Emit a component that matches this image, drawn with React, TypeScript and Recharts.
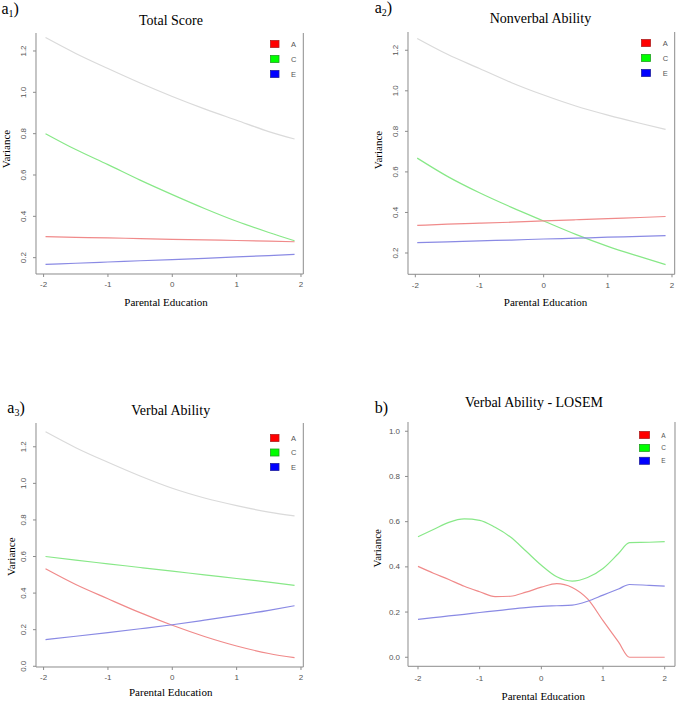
import React from 'react';
import { LineChart, Line, XAxis, YAxis, ReferenceLine, Legend } from 'recharts';

// ---------- data ----------
const xTicks = [-2, -1, 0, 1, 2];
const yTicksA12 = [0.2, 0.4, 0.6, 0.8, 1.0, 1.2];
const yTicksA3 = [0.0, 0.2, 0.4, 0.6, 0.8, 1.0, 1.2];
const yTicksB = [0.0, 0.2, 0.4, 0.6, 0.8, 1.0];

const legendLabels = ['A', 'C', 'E'];
const legendFills = ['#ff0000', '#00ff00', '#0000ff'];
const legendEdges = ['#b02020', '#20a020', '#2020a0'];

// a1) Total Score
const xA = [-1.97, -1.5, -1, -0.5, 0, 0.5, 1, 1.5, 1.9];
const a1Total = [1.265, 1.188, 1.115, 1.045, 0.98, 0.92, 0.865, 0.81, 0.774];
const a1A = [0.302, 0.298, 0.296, 0.292, 0.289, 0.286, 0.283, 0.28, 0.277];
const a1C = [0.8, 0.723, 0.65, 0.575, 0.505, 0.438, 0.376, 0.322, 0.282];
const a1E = [0.168, 0.173, 0.179, 0.185, 0.191, 0.197, 0.204, 0.21, 0.216];

// a2) Nonverbal Ability
const a2Total = [1.258, 1.18, 1.11, 1.04, 0.979, 0.925, 0.88, 0.84, 0.81];
const a2A = [0.336, 0.342, 0.347, 0.352, 0.358, 0.364, 0.37, 0.375, 0.38];
const a2C = [0.668, 0.578, 0.497, 0.425, 0.358, 0.292, 0.233, 0.182, 0.143];
const a2E = [0.251, 0.255, 0.26, 0.264, 0.269, 0.273, 0.278, 0.282, 0.286];

// a3) Verbal Ability
const a3Total = [1.282, 1.195, 1.115, 1.04, 0.973, 0.92, 0.878, 0.843, 0.822];
const a3A = [0.533, 0.447, 0.369, 0.293, 0.224, 0.163, 0.111, 0.07, 0.047];
const a3C = [0.6, 0.58, 0.56, 0.54, 0.52, 0.5, 0.48, 0.46, 0.442];
const a3E = [0.146, 0.164, 0.184, 0.205, 0.227, 0.252, 0.278, 0.306, 0.331];

// b) Verbal Ability - LOSEM
const xB = [-2, -1.75, -1.5, -1.25, -1, -0.75, -0.5, -0.25, 0, 0.25, 0.5, 0.75, 1, 1.25, 1.43, 1.75, 2];
const bA = [0.402, 0.372, 0.344, 0.314, 0.29, 0.268, 0.27, 0.288, 0.31, 0.326, 0.309, 0.258, 0.162, 0.068, 0, 0, 0];
const bC = [0.533, 0.565, 0.597, 0.612, 0.606, 0.575, 0.532, 0.47, 0.407, 0.356, 0.337, 0.353, 0.393, 0.459, 0.507, 0.509, 0.512];
const bE = [0.168, 0.175, 0.183, 0.19, 0.198, 0.205, 0.213, 0.22, 0.225, 0.228, 0.231, 0.248, 0.275, 0.302, 0.322, 0.318, 0.315];

// ---------- styling ----------
const AXIS = '#8c8c8c';
const TICK_TXT = '#555555';
const SANS = 'Liberation Sans, Arial, sans-serif';
const SERIF = 'Liberation Serif, Times New Roman, serif';
const COL = { T: '#dadada', A: '#f08a8a', C: '#88e888', E: '#8a8ae4' };

type Box = { l: number; t: number; r: number; b: number };
type LegendPos = { x: number; y: number; gap: number; w: number; h: number; tx: number; fs: number };

interface PanelProps {
  box: Box;
  xDomain: [number, number];
  yDomain: [number, number];
  yTicks: number[];
  xs: number[];
  total?: number[];
  a: number[];
  c: number[];
  e: number[];
  rotateY: boolean;
  legend: LegendPos;
  xLabelDy: number;
}

const YW = 45;
const PAD = 5;
const XH = 25;

function Panel(p: PanelProps) {
  const left = p.box.l - YW;
  const top = p.box.t - PAD;
  const width = p.box.r - left + PAD;
  const height = p.box.b - top + XH;
  const data = p.xs.map((x, i) => ({
    x,
    T: p.total ? p.total[i] : undefined,
    A: p.a[i],
    C: p.c[i],
    E: p.e[i],
  }));

  const xTick = (props: any) => {
    const { x, y, payload } = props;
    return (
      <text x={x} y={y + p.xLabelDy} textAnchor="middle" fontSize={8} fill={TICK_TXT} fontFamily={SANS}>
        {String(payload.value)}
      </text>
    );
  };
  const yTick = (props: any) => {
    const { x, y, payload } = props;
    const label = Number(payload.value).toFixed(1);
    if (p.rotateY) {
      const cx = x - 7.4;
      return (
        <text
          x={cx}
          y={y}
          transform={`rotate(-90 ${cx} ${y})`}
          textAnchor="middle"
          dominantBaseline="central"
          fontSize={8}
          fill={TICK_TXT}
          fontFamily={SANS}
        >
          {label}
        </text>
      );
    }
    return (
      <text x={x - 3} y={y} textAnchor="end" dominantBaseline="central" fontSize={8} fill={TICK_TXT} fontFamily={SANS}>
        {label}
      </text>
    );
  };

  const lg = p.legend;
  const legendContent = () => (
    <svg width={40} height={lg.gap * 3 + 4} style={{ display: 'block', overflow: 'visible' }}>
      {legendLabels.map((lab, i) => (
        <g key={lab}>
          <rect
            x={0.5}
            y={0.5 + i * lg.gap}
            width={lg.w}
            height={lg.h}
            fill={legendFills[i]}
            stroke={legendEdges[i]}
            strokeWidth={0.8}
          />
          <text
            x={lg.tx - lg.x}
            y={0.5 + i * lg.gap + lg.h / 2}
            dominantBaseline="central"
            fontSize={lg.fs}
            fill={TICK_TXT}
            fontFamily={SANS}
          >
            {lab}
          </text>
        </g>
      ))}
    </svg>
  );

  return (
    <div style={{ position: 'absolute', left, top, width, height }}>
      <LineChart width={width} height={height} data={data} margin={{ top: PAD, right: PAD, bottom: 0, left: 0 }}>
        <XAxis
          type="number"
          dataKey="x"
          domain={p.xDomain}
          ticks={xTicks}
          interval={0}
          allowDataOverflow
          height={XH}
          stroke={AXIS}
          tickSize={3}
          tickMargin={2}
          tick={xTick}
        />
        <YAxis
          type="number"
          domain={p.yDomain}
          ticks={p.yTicks}
          interval={0}
          allowDataOverflow
          width={YW}
          stroke={AXIS}
          tickSize={3}
          tickMargin={2}
          tick={yTick}
        />
        <ReferenceLine x={p.xDomain[1]} stroke={AXIS} ifOverflow="visible" />
        {p.total && (
          <Line dataKey="T" type="monotone" stroke={COL.T} strokeWidth={1.2} dot={false} isAnimationActive={false} legendType="none" />
        )}
        <Line dataKey="C" type="monotone" stroke={COL.C} strokeWidth={1.2} dot={false} isAnimationActive={false} />
        <Line dataKey="A" type="monotone" stroke={COL.A} strokeWidth={1.2} dot={false} isAnimationActive={false} />
        <Line dataKey="E" type="monotone" stroke={COL.E} strokeWidth={1.2} dot={false} isAnimationActive={false} />
        <Legend
          layout="horizontal"
          verticalAlign="middle"
          align="center"
          content={legendContent}
          wrapperStyle={{ left: lg.x - left - 0.5, top: lg.y - top - 0.5, width: 40, height: lg.gap * 3 + 4 }}
        />
      </LineChart>
    </div>
  );
}

function PanelLabel({ x, y, main, sub }: { x: number; y: number; main: string; sub?: string }) {
  return (
    <text x={x} y={y} fontSize={16} fontFamily={SERIF} fill="#000">
      {main}
      {sub && (
        <tspan fontSize={10} dy={3}>
          {sub}
        </tspan>
      )}
      <tspan dy={sub ? -3 : 0}>)</tspan>
    </text>
  );
}

function Title({ x, y, text }: { x: number; y: number; text: string }) {
  return (
    <text x={x} y={y} fontSize={14} fontFamily={SERIF} textAnchor="middle" fill="#000">
      {text}
    </text>
  );
}

function XLab({ x, y }: { x: number; y: number }) {
  return (
    <text x={x} y={y} fontSize={11} fontFamily={SERIF} textAnchor="middle" fill="#000">
      Parental Education
    </text>
  );
}

function YLab({ x, y }: { x: number; y: number }) {
  return (
    <text x={x} y={y} fontSize={11} fontFamily={SERIF} textAnchor="middle" fill="#000" transform={`rotate(-90 ${x} ${y})`}>
      Variance
    </text>
  );
}

export default function App() {
  return (
    <div style={{ position: 'absolute', left: 0, top: 0, width: 676, height: 701, overflow: 'hidden', background: '#fff' }}>
      <Panel
        box={{ l: 35.7, t: 33, r: 303, b: 274 }}
        xDomain={[-2.118, 2.036]}
        yDomain={[0.121, 1.287]}
        yTicks={yTicksA12}
        xs={xA}
        total={a1Total}
        a={a1A}
        c={a1C}
        e={a1E}
        rotateY
        xLabelDy={8.5}
        legend={{ x: 270, y: 40, gap: 15, w: 8.5, h: 7, tx: 291, fs: 7.5 }}
      />
      <Panel
        box={{ l: 408, t: 31.7, r: 674.7, b: 274 }}
        xDomain={[-2.114, 2.042]}
        yDomain={[0.095, 1.29]}
        yTicks={yTicksA12}
        xs={xA}
        total={a2Total}
        a={a2A}
        c={a2C}
        e={a2E}
        rotateY
        xLabelDy={8.5}
        legend={{ x: 641.3, y: 40, gap: 15, w: 9, h: 7, tx: 663, fs: 7.5 }}
      />
      <Panel
        box={{ l: 35.7, t: 422.5, r: 303, b: 666.5 }}
        xDomain={[-2.118, 2.036]}
        yDomain={[-0.004, 1.33]}
        yTicks={yTicksA3}
        xs={xA}
        total={a3Total}
        a={a3A}
        c={a3C}
        e={a3E}
        rotateY
        xLabelDy={8.5}
        legend={{ x: 270, y: 434, gap: 14.5, w: 8.5, h: 7, tx: 291, fs: 7.5 }}
      />
      <Panel
        box={{ l: 408, t: 421.7, r: 675, b: 666 }}
        xDomain={[-2.162, 2.167]}
        yDomain={[-0.04, 1.041]}
        yTicks={yTicksB}
        xs={xB}
        a={bA}
        c={bC}
        e={bE}
        rotateY={false}
        xLabelDy={10}
        legend={{ x: 639.7, y: 431.7, gap: 12.9, w: 10, h: 7, tx: 662, fs: 6.5 }}
      />
      <svg width={676} height={701} style={{ position: 'absolute', left: 0, top: 0, pointerEvents: 'none' }}>
        <PanelLabel x={1.5} y={14} main="a" sub="1" />
        <PanelLabel x={374.7} y={13} main="a" sub="2" />
        <PanelLabel x={7.3} y={413} main="a" sub="3" />
        <PanelLabel x={374.7} y={412.7} main="b" />
        <Title x={171} y={25} text="Total Score" />
        <Title x={540.4} y={23} text="Nonverbal Ability" />
        <Title x={170.7} y={415} text="Verbal Ability" />
        <Title x={534} y={406.7} text="Verbal Ability - LOSEM" />
        <XLab x={166} y={306} />
        <XLab x={545.5} y={306} />
        <XLab x={170.7} y={696} />
        <XLab x={543.3} y={699.5} />
        <YLab x={10} y={149} />
        <YLab x={381.5} y={150} />
        <YLab x={15} y={556.7} />
        <YLab x={381.5} y={548.3} />
      </svg>
    </div>
  );
}
